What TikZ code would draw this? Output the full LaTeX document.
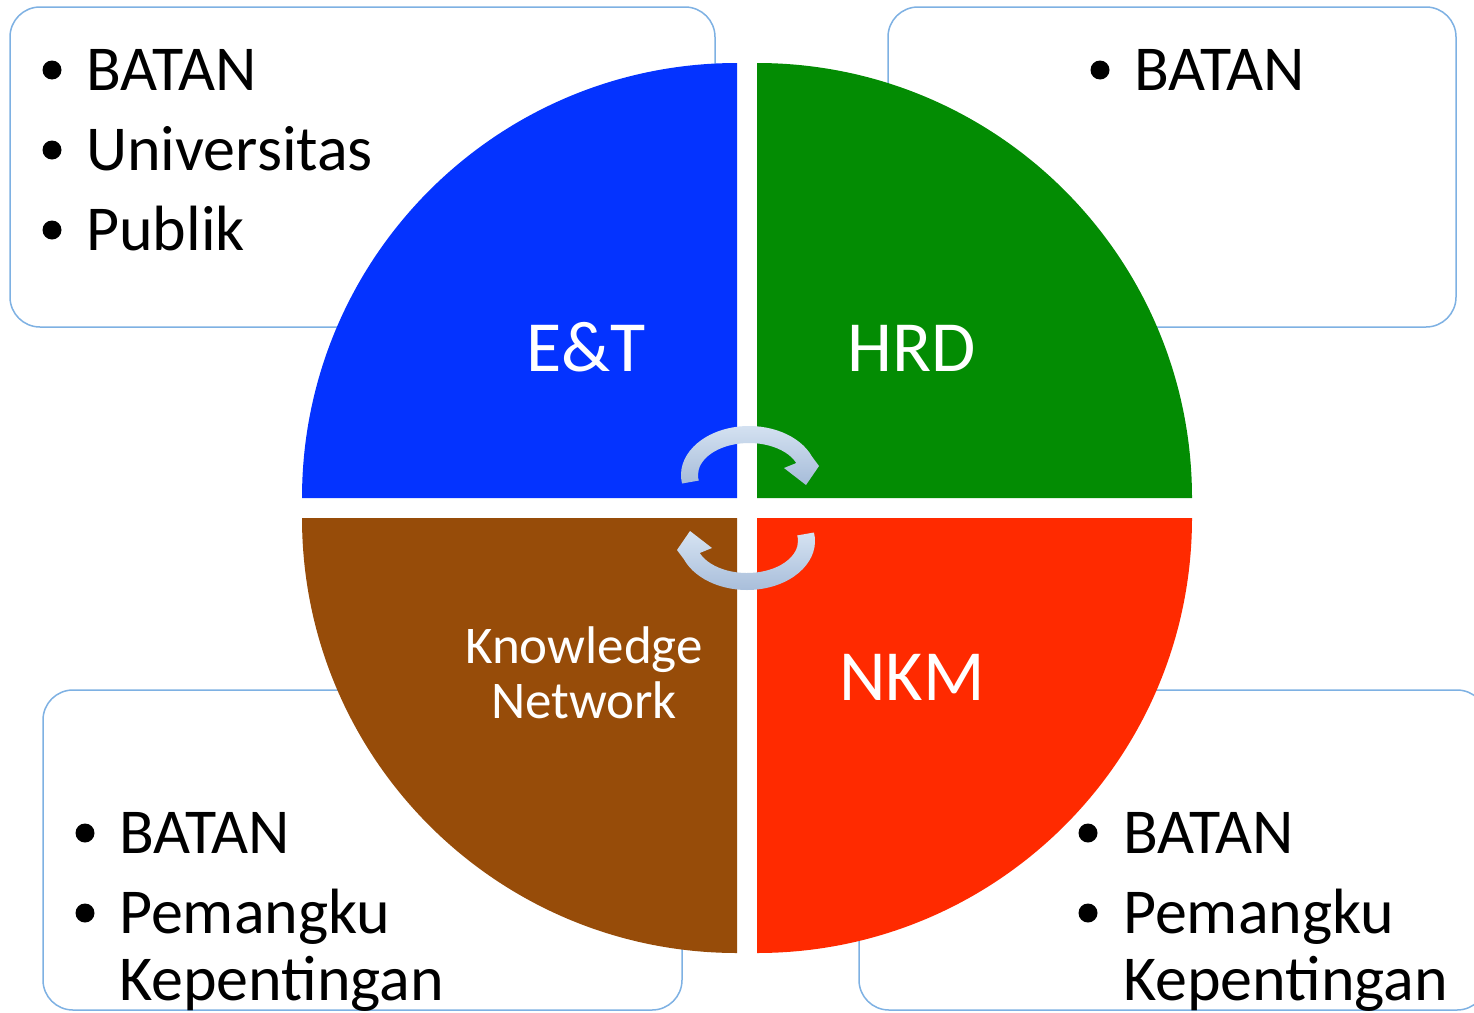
\documentclass[tikz,border=0pt]{standalone}
\usepackage{fontspec}
\setmainfont{Carlito}
\usetikzlibrary{calc}
\definecolor{qblue}{HTML}{0433FF}
\definecolor{qgreen}{HTML}{038C03}
\definecolor{qbrown}{HTML}{974C09}
\definecolor{qred}{HTML}{FF2A00}
\definecolor{boxline}{HTML}{7EB1E3}
\definecolor{arrtop}{HTML}{D6E3F2}
\definecolor{arrbot}{HTML}{A6BCD9}
\begin{document}
\begin{tikzpicture}[x=1pt,y=-1pt,
  infobox/.style={draw=boxline,line width=1.5pt,fill=white,rounded corners=30pt,inner sep=0pt},
  listtext/.style={anchor=base west,inner sep=0pt,font=\fontsize{64}{76}\selectfont},
  bulletdot/.style={circle,fill=black,inner sep=0pt,minimum size=19pt},
  quadlabel/.style={text=white,inner sep=0pt,anchor=base,font=\fontsize{72}{86}\selectfont},
  knlabel/.style={text=white,inner sep=0pt,anchor=base,font=\fontsize{53}{58}\selectfont},
  cyclearrow/.style={top color=arrtop,bottom color=arrbot},
]
\useasboundingbox (0,0) rectangle (1474,1012);
\clip (0,0) rectangle (1474,1012);
\fill[white] (0,0) rectangle (1474,1012);

% info boxes
\node[infobox,minimum width=705pt,minimum height=320pt] (boxTL) at (362.5,167) {};
\node[infobox,minimum width=568pt,minimum height=320pt] (boxTR) at (1172,167) {};
\node[infobox,minimum width=639pt,minimum height=320pt] (boxBL) at (362.5,850) {};
\node[infobox,minimum width=628pt,minimum height=320pt] (boxBR) at (1173,850) {};

% quadrants
\fill[qblue]  (737,498) -- (302,498) arc[start angle=180,end angle=270,radius=435] -- cycle;
\fill[qgreen] (757,498) -- (757,63) arc[start angle=270,end angle=360,radius=435] -- cycle;
\fill[qred]   (757,518) -- (1192,518) arc[start angle=0,end angle=90,radius=435] -- cycle;
\fill[qbrown] (737,518) -- (737,953) arc[start angle=90,end angle=180,radius=435] -- cycle;

% cycle arrows
\coordinate (ca) at (749,475);
\coordinate (cb) at (747,541);
\shade[cyclearrow] ($(ca)+(-190:68 and 49)$) arc[start angle=-190,end angle=-22,x radius=68,y radius=49]
  -- (819,466) -- (806,485) -- (784,468)
  -- ($(ca)+(-22:51 and 32)$) arc[start angle=-22,end angle=-190,x radius=51,y radius=32] -- cycle;
\shade[cyclearrow] ($(cb)+(-10:68 and 49)$) arc[start angle=-10,end angle=158,x radius=68,y radius=49]
  -- (677,550) -- (690,531) -- (712,548)
  -- ($(cb)+(158:51 and 32)$) arc[start angle=158,end angle=-10,x radius=51,y radius=32] -- cycle;

% quadrant labels
\node[quadlabel] (et) at (586,371) {E\&T};
\node[quadlabel] (hrd) at (912,371) {HRD};
\node[quadlabel] (nkm) at (912,700) {NKM};
\node[knlabel] (kn1) at (584,663) {Knowledge};
\node[knlabel] (kn2) at (584,718) {Network};

% top-left list
\node[bulletdot] (tlb1) at (52,70) {};
\node[listtext] (tlt1) at (86,90) {BATAN};
\node[bulletdot] (tlb2) at (52,150) {};
\node[listtext] (tlt2) at (86,170) {Universitas};
\node[bulletdot] (tlb3) at (52,230) {};
\node[listtext] (tlt3) at (86,250) {Publik};

% top-right list
\node[bulletdot] (trb1) at (1100,70) {};
\node[listtext] (trt1) at (1134,90) {BATAN};

% bottom-left list
\node[bulletdot] (blb1) at (85,833) {};
\node[listtext] (blt1) at (119,853) {BATAN};
\node[bulletdot] (blb2) at (85,913) {};
\node[listtext] (blt2) at (119,933) {Pemangku};
\node[listtext] (blt3) at (119,1000) {Kepentingan};

% bottom-right list
\node[bulletdot] (brb1) at (1088,833) {};
\node[listtext] (brt1) at (1123,853) {BATAN};
\node[bulletdot] (brb2) at (1088,913) {};
\node[listtext] (brt2) at (1123,933) {Pemangku};
\node[listtext] (brt3) at (1123,1000) {Kepentingan};
\end{tikzpicture}
\end{document}
